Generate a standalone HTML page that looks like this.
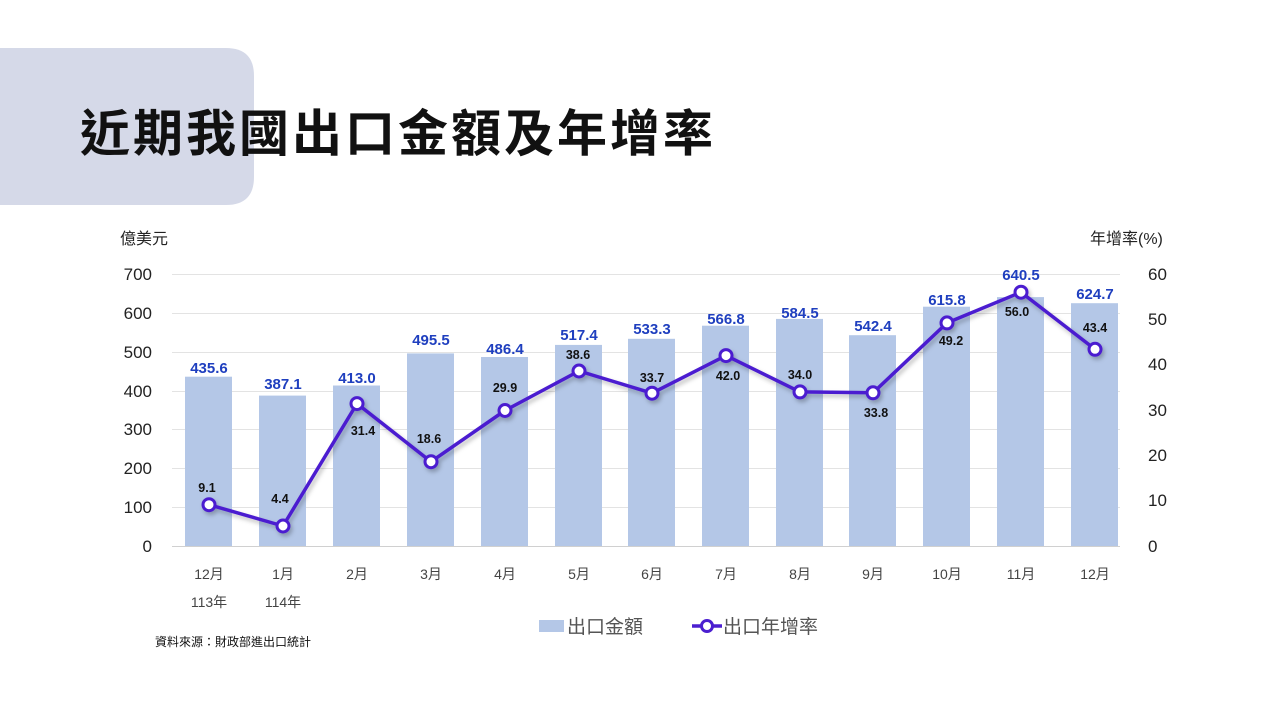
<!DOCTYPE html>
<html><head><meta charset="utf-8"><style>
body{margin:0;width:1280px;height:720px;background:#fff;overflow:hidden;font-family:"Liberation Sans","Noto Sans CJK TC",sans-serif}
</style></head><body>
<svg width="1280" height="720" xmlns="http://www.w3.org/2000/svg" font-family="Liberation Sans, Noto Sans CJK TC, sans-serif">
<defs><filter id="sh" x="-10%" y="-10%" width="120%" height="130%"><feDropShadow dx="2" dy="3" stdDeviation="2" flood-color="#000" flood-opacity="0.25"/></filter></defs>
<path d="M0 48 H226 Q254 48 254 76 V177 Q254 205 226 205 H0 Z" fill="#d5d9e8"/>
<text x="80" y="151" font-size="50" letter-spacing="3" font-weight="bold" fill="#111" font-family="Noto Sans CJK TC, sans-serif">近期我國出口金額及年增率</text>
<text x="120" y="244" font-size="16" fill="#222">億美元</text>
<text x="1090" y="244" font-size="16" fill="#222">年增率(%)</text>
<g stroke="#e3e3e3" stroke-width="1">
<line x1="172" x2="1120" y1="274.5" y2="274.5"/><line x1="172" x2="1120" y1="313.5" y2="313.5"/><line x1="172" x2="1120" y1="352.5" y2="352.5"/><line x1="172" x2="1120" y1="391.5" y2="391.5"/><line x1="172" x2="1120" y1="429.5" y2="429.5"/><line x1="172" x2="1120" y1="468.5" y2="468.5"/><line x1="172" x2="1120" y1="507.5" y2="507.5"/><line x1="172" x2="1120" y1="546.5" y2="546.5" stroke="#d0d0d0"/>
</g>
<g font-size="17" fill="#222" text-anchor="end">
<text x="152" y="280">700</text><text x="152" y="319">600</text><text x="152" y="358">500</text><text x="152" y="397">400</text><text x="152" y="435">300</text><text x="152" y="474">200</text><text x="152" y="513">100</text><text x="152" y="552">0</text>
</g>
<g font-size="17" fill="#222">
<text x="1148" y="280">60</text><text x="1148" y="325">50</text><text x="1148" y="370">40</text><text x="1148" y="416">30</text><text x="1148" y="461">20</text><text x="1148" y="506">10</text><text x="1148" y="552">0</text>
</g>
<g fill="#b4c7e7">
<rect x="185" y="376.7" width="47" height="169.3"/>
<rect x="259" y="395.6" width="47" height="150.4"/>
<rect x="333" y="385.5" width="47" height="160.5"/>
<rect x="407" y="353.4" width="47" height="192.6"/>
<rect x="481" y="357" width="47" height="189"/>
<rect x="555" y="344.9" width="47" height="201.1"/>
<rect x="628" y="338.8" width="47" height="207.2"/>
<rect x="702" y="325.7" width="47" height="220.3"/>
<rect x="776" y="318.9" width="47" height="227.1"/>
<rect x="849" y="335.2" width="47" height="210.8"/>
<rect x="923" y="306.7" width="47" height="239.3"/>
<rect x="997" y="297.1" width="47" height="248.9"/>
<rect x="1071" y="303.2" width="47" height="242.8"/>
</g>
<g font-size="15" font-weight="bold" fill="#1f3fbf" text-anchor="middle">
<text x="209" y="373">435.6</text><text x="283" y="389">387.1</text><text x="357" y="383">413.0</text><text x="431" y="345">495.5</text><text x="505" y="354">486.4</text><text x="579" y="340">517.4</text><text x="652" y="334">533.3</text><text x="726" y="324">566.8</text><text x="800" y="318">584.5</text><text x="873" y="331">542.4</text><text x="947" y="305">615.8</text><text x="1021" y="280">640.5</text><text x="1095" y="299">624.7</text>
</g>
<g filter="url(#sh)">
<polyline fill="none" stroke="#4b1fd0" stroke-width="3.5" stroke-linejoin="round" points="209,504.7 283,526 357,403.6 431,461.7 505,410.5 579,371 652,393.2 726,355.6 800,391.9 873,392.8 947,322.9 1021,292.2 1095,349.3"/>
<g fill="#fff" stroke="#4b1fd0" stroke-width="3">
<circle cx="209" cy="504.7" r="6"/><circle cx="283" cy="526" r="6"/><circle cx="357" cy="403.6" r="6"/><circle cx="431" cy="461.7" r="6"/><circle cx="505" cy="410.5" r="6"/><circle cx="579" cy="371" r="6"/><circle cx="652" cy="393.2" r="6"/><circle cx="726" cy="355.6" r="6"/><circle cx="800" cy="391.9" r="6"/><circle cx="873" cy="392.8" r="6"/><circle cx="947" cy="322.9" r="6"/><circle cx="1021" cy="292.2" r="6"/><circle cx="1095" cy="349.3" r="6"/>
</g></g>
<g font-size="12.5" font-weight="bold" fill="#111" text-anchor="middle">
<text x="207" y="492">9.1</text><text x="280" y="503">4.4</text><text x="363" y="435">31.4</text><text x="429" y="443">18.6</text><text x="505" y="392">29.9</text><text x="578" y="359">38.6</text><text x="652" y="382">33.7</text><text x="728" y="380">42.0</text><text x="800" y="379">34.0</text><text x="876" y="417">33.8</text><text x="951" y="345">49.2</text><text x="1017" y="316">56.0</text><text x="1095" y="332">43.4</text>
</g>
<g font-size="14" fill="#444" text-anchor="middle">
<text x="209" y="579">12月</text><text x="283" y="579">1月</text><text x="357" y="579">2月</text><text x="431" y="579">3月</text><text x="505" y="579">4月</text><text x="579" y="579">5月</text><text x="652" y="579">6月</text><text x="726" y="579">7月</text><text x="800" y="579">8月</text><text x="873" y="579">9月</text><text x="947" y="579">10月</text><text x="1021" y="579">11月</text><text x="1095" y="579">12月</text>
<text x="209" y="607">113年</text><text x="283" y="607">114年</text>
</g>
<rect x="539" y="620" width="25" height="12" fill="#b4c7e7"/>
<text x="567" y="633" font-size="19" fill="#555">出口金額</text>
<line x1="692" x2="722" y1="626" y2="626" stroke="#4b1fd0" stroke-width="3.5"/>
<circle cx="707" cy="626" r="5.5" fill="#fff" stroke="#4b1fd0" stroke-width="3"/>
<text x="723" y="633" font-size="19" fill="#555">出口年增率</text>
<text x="155" y="646" font-size="12" fill="#111">資料來源：財政部進出口統計</text>
</svg>
</body></html>
